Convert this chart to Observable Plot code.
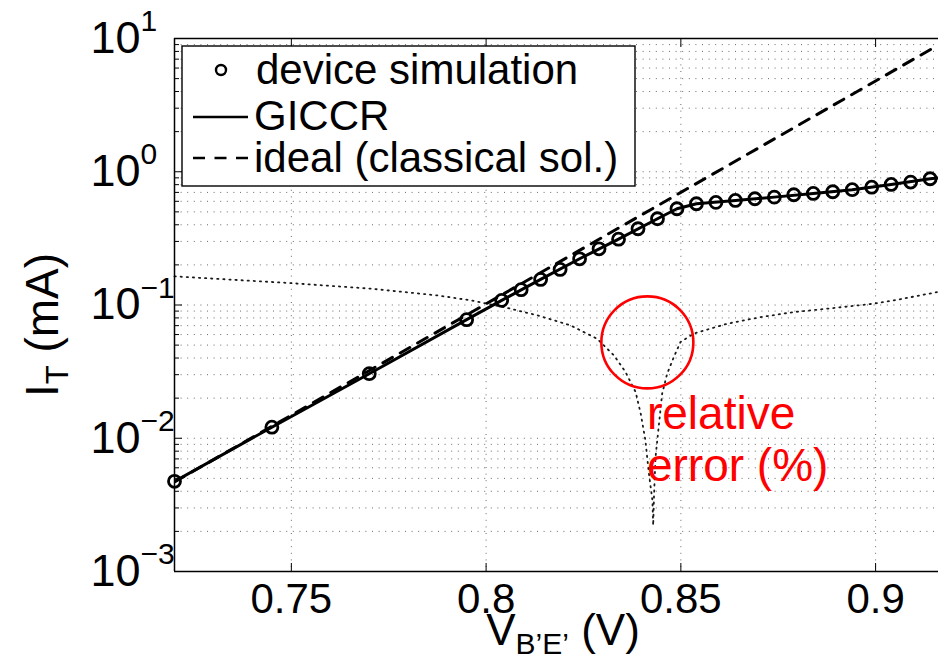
<!DOCTYPE html>
<html>
<head>
<meta charset="utf-8">
<script src="https://cdn.jsdelivr.net/npm/d3@7"></script>
<script src="https://cdn.jsdelivr.net/npm/@observablehq/plot@0.6"></script>
<style>
  body { margin: 0; background: #fff; overflow: hidden; }
  #chart { width: 938px; height: 660px; overflow: hidden; }
</style>
</head>
<body>
<div id="chart"></div>
<script>
// Transfer current I_T versus internal base-emitter voltage V_B'E'

// Device simulation (circle markers)
const simV = [0.72, 0.745, 0.77, 0.795, 0.804, 0.809, 0.814, 0.819, 0.824, 0.829, 0.834, 0.839,
  0.844, 0.849, 0.854, 0.859, 0.864, 0.869, 0.874, 0.879, 0.884, 0.889, 0.894, 0.899, 0.904, 0.909, 0.914];
const simI = [0.00475, 0.0121, 0.0305, 0.0776, 0.1083, 0.1303, 0.1556, 0.185, 0.2222, 0.2642, 0.312, 0.3736,
  0.444, 0.5277, 0.575, 0.589, 0.609, 0.627, 0.645, 0.672, 0.6875, 0.708, 0.733, 0.766, 0.803, 0.836, 0.886];

// GICCR model (solid line)
const giccrV = [0.72, 0.745, 0.77, 0.795, 0.804, 0.814, 0.824, 0.834, 0.844, 0.849, 0.854, 0.864,
  0.874, 0.884, 0.894, 0.904, 0.914, 0.9165];
const giccrI = [0.00475, 0.0121, 0.0305, 0.0776, 0.1083, 0.1556, 0.2222, 0.312, 0.444, 0.5277, 0.575, 0.609,
  0.645, 0.6875, 0.733, 0.803, 0.886, 0.90];

// Ideal classical solution (dashed line)
const idealV = [0.72, 0.80, 0.85, 0.90, 0.916];
const idealI = [0.0047, 0.102, 0.70, 4.8, 8.9];

// Relative error of GICCR vs device simulation, in % (dotted line)
const errV = [0.72, 0.7498, 0.7704, 0.7875, 0.7961, 0.8046, 0.8132, 0.8217, 0.8285, 0.8328, 0.8358,
  0.8384, 0.8397, 0.8409, 0.8418, 0.8427, 0.8429, 0.8431, 0.8435, 0.8444, 0.8452, 0.8465, 0.8482,
  0.8499, 0.8533, 0.8619, 0.8705, 0.8790, 0.8876, 0.8995, 0.9047, 0.9165];
const errPct = [0.164, 0.146, 0.1326, 0.118, 0.1083, 0.0964, 0.0836, 0.0703, 0.0558, 0.0419, 0.0314,
  0.0222, 0.0153, 0.00965, 0.00542, 0.00342, 0.00222, 0.00362, 0.00723, 0.0129, 0.0216, 0.0306, 0.0407,
  0.0527, 0.061, 0.0724, 0.0811, 0.0885, 0.0938, 0.1023, 0.1083, 0.126];

// Axis ticks and labels
const xTicks = [0.75, 0.8, 0.85, 0.9];
const xTickLabels = ["0.75", "0.8", "0.85", "0.9"];
const yDecades = [1e-3, 1e-2, 1e-1, 1, 10];
const yExponents = ["\u22123", "\u22122", "\u22121", "0", "1"];
const yMinorSteps = [2, 3, 4, 5, 6, 7, 8, 9];

// Legend entries and the annotation on the error dip
const legendLabels = ["device simulation", "GICCR", "ideal (classical sol.)"];
const noteLines = ["relative", "error (%)"];
const noteCircle = {v: 0.8414, i: 0.0524};
const noteText = {v: 0.8413, i: 0.0222};

const zip = (vs, is) => vs.map((v, k) => ({v, i: is[k]}));
const sim = zip(simV, simI);
const giccr = zip(giccrV, giccrI);
const ideal = zip(idealV, idealI);
const err = zip(errV, errPct);
const yMinor = yDecades.slice(0, -1).flatMap(d => yMinorSteps.map(k => k * d));
const yGrid = yDecades.concat(yMinor);

const font = "'Liberation Sans', Arial, Helvetica, sans-serif";
const gridStyle = {stroke: "#6a6a6a", strokeOpacity: 1, strokeWidth: 1, strokeDasharray: "1,5.6"};

const svg = Plot.plot({
  width: 938,
  height: 660,
  marginLeft: 174,
  marginRight: -15,
  marginTop: 38,
  marginBottom: 89,
  x: {domain: [0.72, 0.92]},
  y: {type: "log", domain: [1e-3, 10]},
  style: {fontFamily: font, background: "white", color: "black", overflow: "hidden"},
  marks: [
    Plot.gridY(yGrid, gridStyle),
    Plot.gridX(xTicks, gridStyle),
    Plot.line(err, {x: "v", y: "i", stroke: "#1a1a1a", strokeWidth: 1.8, strokeDasharray: "1.3,4.8"}),
    Plot.line(ideal, {x: "v", y: "i", stroke: "black", strokeWidth: 3, strokeDasharray: "11,9", clip: true}),
    Plot.line(giccr, {x: "v", y: "i", stroke: "black", strokeWidth: 3, clip: true}),
    Plot.dot(sim, {x: "v", y: "i", r: 6, stroke: "black", strokeWidth: 2.8, fill: "none"}),
    Plot.dot([noteCircle], {x: "v", y: "i", r: 46, stroke: "#ff0000", strokeWidth: 2.6, fill: "none"}),
    Plot.text([noteLines.join("\n")], {x: () => noteText.v, y: () => noteText.i, text: d => d,
      textAnchor: "start", lineAnchor: "top", lineHeight: 1.13, fontSize: 46, fill: "#ff0000"}),
    Plot.ruleX([0.72], {stroke: "black", strokeWidth: 1.5}),
    Plot.ruleY([1e-3, 10], {stroke: "black", strokeWidth: 1.5}),
    Plot.axisX(xTicks, {anchor: "bottom", label: null, tickSize: -8, tickPadding: 20, fontSize: 42,
      tickFormat: d => xTickLabels[xTicks.indexOf(d)]}),
    Plot.axisX(xTicks, {anchor: "top", label: null, tickSize: -8, tickFormat: () => ""}),
    Plot.axisY(yDecades, {anchor: "left", label: null, tickSize: -8, tickFormat: () => ""}),
    Plot.axisY(yMinor, {anchor: "left", label: null, tickSize: -5, tickFormat: () => ""}),
    Plot.text(yDecades, {y: d => d, frameAnchor: "left", text: () => "10", textAnchor: "end",
      lineAnchor: "middle", dx: -34, fontSize: 45}),
    Plot.text(yDecades, {y: d => d, frameAnchor: "left", text: d => yExponents[yDecades.indexOf(d)],
      textAnchor: "start", lineAnchor: "middle", dx: -34, dy: -17, fontSize: 30})
  ]
});

document.getElementById("chart").append(svg);
const root = d3.select(svg);

// Axis titles with subscript parts
const xTitle = root.append("text")
  .attr("x", 563).attr("y", 645)
  .attr("text-anchor", "middle")
  .attr("font-family", font).attr("font-size", 44).attr("fill", "black");
xTitle.append("tspan").text("V");
xTitle.append("tspan").attr("font-size", 30).attr("dy", 9).text("B\u2019E\u2019");
xTitle.append("tspan").attr("dy", -9).text(" (V)");

const yTitle = root.append("text")
  .attr("transform", "translate(58,325) rotate(-90)")
  .attr("text-anchor", "middle")
  .attr("font-family", font).attr("font-size", 46).attr("fill", "black");
yTitle.append("tspan").text("I");
yTitle.append("tspan").attr("font-size", 31).attr("dy", 10).text("T");
yTitle.append("tspan").attr("dy", -10).text(" (mA)");

// Legend box
const lg = root.append("g").attr("font-family", font).attr("font-size", 42)
  .attr("fill", "black").attr("text-anchor", "start");
lg.append("rect").attr("x", 182).attr("y", 46).attr("width", 453).attr("height", 140)
  .attr("fill", "white").attr("stroke", "black").attr("stroke-width", 1.4);
lg.append("circle").attr("cx", 221).attr("cy", 70).attr("r", 5).attr("fill", "none")
  .attr("stroke", "black").attr("stroke-width", 2.4);
lg.append("line").attr("x1", 193).attr("x2", 248).attr("y1", 117).attr("y2", 117)
  .attr("stroke", "black").attr("stroke-width", 2.6);
lg.append("line").attr("x1", 193).attr("x2", 248).attr("y1", 158).attr("y2", 158)
  .attr("stroke", "black").attr("stroke-width", 2.6).attr("stroke-dasharray", "12,9.5");
const legendY = [84, 130, 171.5];
const legendX = [256, 254, 254];
legendLabels.forEach((t, k) => {
  lg.append("text").attr("x", legendX[k]).attr("y", legendY[k]).attr("text-anchor", "start").text(t);
});
</script>
</body>
</html>
